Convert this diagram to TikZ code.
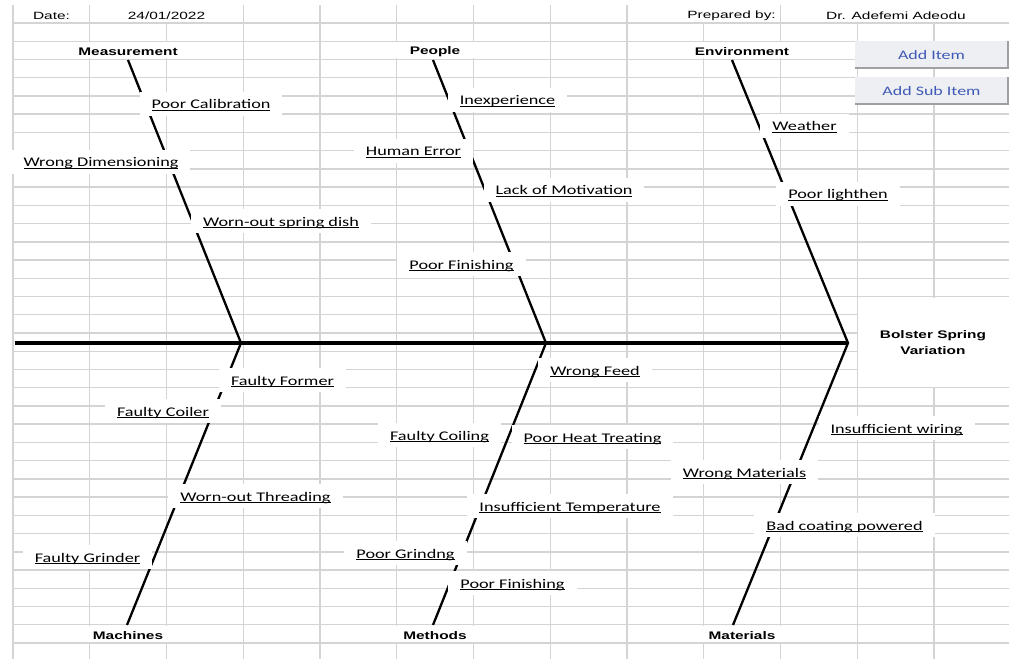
\documentclass[tikz,border=0pt]{standalone}
\usepackage{fontspec}
\newfontfamily\labf[FakeStretch=1.38]{Carlito}
\newfontfamily\catf[FakeStretch=1.4]{Liberation Sans Bold}
\newfontfamily\hdrf[FakeStretch=1.47]{Liberation Sans}
\newcommand\ulab[1]{\setbox0\hbox{#1}\rlap{\rule[-2.2bp]{\wd0}{0.9bp}}\box0}
\definecolor{gridc}{RGB}{212,212,212}
\definecolor{btnfill}{RGB}{238,239,243}
\definecolor{btnedge}{RGB}{160,160,164}
\definecolor{btntext}{RGB}{62,90,182}
\tikzset{
  gridline/.style={draw=gridc, line width=1.4bp},
  bone/.style={draw=black, line width=2.3bp},
  spine/.style={draw=black, line width=3.6bp},
  lbl/.style={fill=white, inner xsep=12bp, inner ysep=0bp, text height=11bp, text depth=1bp,
    minimum height=24bp, font=\labf\fontsize{13.2bp}{15bp}\selectfont},
  cat/.style={inner sep=0bp, align=center, font=\catf\fontsize{11bp}{15.5bp}\selectfont},
  hdr/.style={inner sep=0bp, font=\hdrf\fontsize{10.5bp}{12bp}\selectfont},
  btn/.style={fill=btnfill, draw=none, minimum width=153bp, minimum height=27bp, inner sep=0bp,
    text height=11bp, text depth=1bp,
    text=btntext, font=\labf\fontsize{13bp}{15bp}\selectfont},
}
\begin{document}
\begin{tikzpicture}[x=1bp, y=-1bp]
\useasboundingbox (0,0) rectangle (1009,659);
\fill[white] (0,0) rectangle (1009,659);
% grid
\foreach \k in {0,...,34} \draw[gridline] (13,{23+18.235*\k}) -- (1009,{23+18.235*\k});
\foreach \j in {0,...,12} \draw[gridline] ({13+76.75*\j},23) -- ({13+76.75*\j},659);
\foreach \j in {0,1,3,4,5,6,7,8,10} \draw[gridline] ({13+76.75*\j},5) -- ({13+76.75*\j},23);
% merged cells
\fill[white] (14.2,42.4) rectangle (242.3,58.4);
\fill[white] (320.8,42.4) rectangle (549.3,58.4);
\fill[white] (627.8,42.4) rectangle (856.3,58.4);
\fill[white] (14.2,626.0) rectangle (242.3,641.8);
\fill[white] (320.8,626.0) rectangle (549.3,641.8);
\fill[white] (627.8,626.0) rectangle (856.3,641.8);
\fill[white] (857.7,297.7) rectangle (1009,386.5);
% header
\node[hdr] (date) at (51.5,15.5) {Date:};
\node[hdr] (dateval) at (166.5,15.5) {24/01/2022};
\node[hdr, anchor=east] (prep) at (776,15.5) {Prepared by:};
\node[hdr] (prepval) at (896,15.5) {Dr. Adefemi Adeodu};
% categories
\node[cat] (meas) at (128,51.3) {Measurement};
\node[cat] (peop) at (435,51.3) {People};
\node[cat] (envi) at (742,51.3) {Environment};
\node[cat] (mach) at (128,635.8) {Machines};
\node[cat] (meth) at (435,635.8) {Methods};
\node[cat] (mate) at (742,635.8) {Materials};
\node[cat] (effect) at (933,342.5) {Bolster Spring\\Variation};
% bone coordinates
\coordinate (tm) at (128,60);
\coordinate (tp) at (433,60);
\coordinate (te) at (732,60);
\coordinate (bm) at (127,625);
\coordinate (bp) at (433,625);
\coordinate (be) at (733,625);
\coordinate (j1) at (241,343);
\coordinate (j2) at (546,343);
\coordinate (j3) at (848,343);
\coordinate (s0) at (15,343);
% bones
\draw[spine] (s0) -- (j3);
\draw[bone] (tm) -- (j1) -- (bm);
\draw[bone] (tp) -- (j2) -- (bp);
\draw[bone] (te) -- (j3) -- (be);
% cause labels
\node[lbl] (c1) at (211,104) {\ulab{Poor Calibration}};
\node[lbl] (c2) at (101,162) {\ulab{Wrong Dimensioning}};
\node[lbl] (c3) at (281,221) {\ulab{Worn-out spring dish}};
\node[lbl] (c4) at (507.5,100) {\ulab{Inexperience}};
\node[lbl] (c5) at (413.5,151) {\ulab{Human Error}};
\node[lbl] (c6) at (564,190) {\ulab{Lack of Motivation}};
\node[lbl] (c7) at (461.5,264) {\ulab{Poor Finishing}};
\node[lbl] (c8) at (804.5,126) {\ulab{Weather}};
\node[lbl] (c9) at (838,194) {\ulab{Poor lighthen}};
\node[lbl] (c10) at (282.5,380) {\ulab{Faulty Former}};
\node[lbl] (c11) at (163,411) {\ulab{Faulty Coiler}};
\node[lbl] (c12) at (255.5,496) {\ulab{Worn-out Threading}};
\node[lbl] (c13) at (87.5,557) {\ulab{Faulty Grinder}};
\node[lbl] (c14) at (595,370) {\ulab{Wrong Feed}};
\node[lbl] (c15) at (439.5,435) {\ulab{Faulty Coiling}};
\node[lbl] (c16) at (592.5,437) {\ulab{Poor Heat Treating}};
\node[lbl] (c17) at (570,506) {\ulab{Insufficient Temperature}};
\node[lbl] (c18) at (405.5,553) {\ulab{Poor Grindng}};
\node[lbl] (c19) at (512.5,583) {\ulab{Poor Finishing}};
\node[lbl] (c20) at (896.5,428) {\ulab{Insufficient wiring}};
\node[lbl] (c21) at (744.5,472) {\ulab{Wrong Materials}};
\node[lbl] (c22) at (844.5,525) {\ulab{Bad coating powered}};
% buttons
\node[btn] (b1) at (931.5,54.5) {Add Item};
\node[btn] (b2) at (931.5,90.5) {Add Sub Item};
\draw[btnedge, line width=1.6bp] (b1.south west) -- (b1.south east) -- (b1.north east);
\draw[btnedge, line width=1.6bp] (b2.south west) -- (b2.south east) -- (b2.north east);
\end{tikzpicture}
\end{document}
